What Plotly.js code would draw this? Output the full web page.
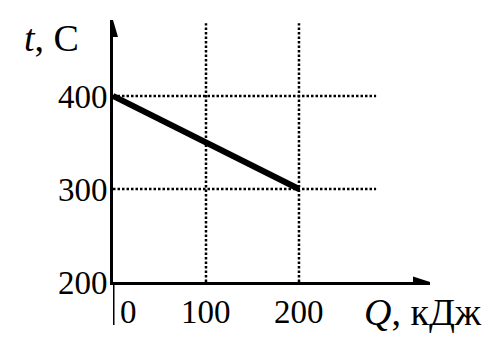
<!DOCTYPE html>
<html><head><meta charset="utf-8">
<script src="https://cdn.plot.ly/plotly-3.0.1.min.js"></script>
<style>html,body{margin:0;padding:0;background:#fff}</style>
</head><body>
<div id="chart" style="width:500px;height:351px"></div>
<script>
// Data
const Q = [0, 200];          // кДж
const T = [400, 300];        // C
const xTickVals = [0, 100, 200];
const xTickText = ['0', '100', '200'];
const yTickVals = [200, 300, 400];
const yTickText = ['200', '300', '400'];

const FONT = 'Liberation Serif, Times New Roman, serif';
const trace = {
  x: Q, y: T, type: 'scatter', mode: 'lines',
  line: {color: '#000', width: 6}, hoverinfo: 'skip'
};

const DOT = {color: '#000', width: 2.5, dash: '2.5px,2px'};
const shapes = [];
// vertical dotted grid lines (skip the origin)
xTickVals.filter(v => v !== 0).forEach(v => shapes.push({
  type: 'line', xref: 'x', yref: 'paper', x0: v, x1: v, y0: 0, y1: 0.988,
  line: DOT, layer: 'below'
}));
// horizontal dotted grid lines (skip the x axis level)
yTickVals.filter(v => v !== yTickVals[0]).forEach(v => shapes.push({
  type: 'line', xref: 'paper', yref: 'y', x0: 0, x1: 0.83, y0: v, y1: v,
  line: DOT, layer: 'below'
}));
// y axis extension below x axis
shapes.push({type: 'line', xref: 'x', yref: 'paper', ysizemode: 'pixel', yanchor: 0,
  x0: 0, x1: 0, y0: 0, y1: -43, line: {color: '#000', width: 3}});
// arrowheads
shapes.push({type: 'path', xref: 'x', yref: 'paper', xsizemode: 'pixel', ysizemode: 'pixel',
  xanchor: 0, yanchor: 1, path: 'M0,0 L-5,-17 L5,-17 Z', fillcolor: '#000', line: {width: 0}});
shapes.push({type: 'path', xref: 'paper', yref: 'y', xsizemode: 'pixel', ysizemode: 'pixel',
  xanchor: 1, yanchor: yTickVals[0], path: 'M0,0 L-17,5.5 L-17,-5.5 Z', fillcolor: '#000', line: {width: 0}});

const annotations = xTickVals.map((v, i) => ({
  x: v, xref: 'x', y: 0, yref: 'paper', text: xTickText[i], showarrow: false,
  xanchor: i === 0 ? 'left' : 'center', xshift: i === 0 ? 5 : 0,
  yanchor: 'middle', yshift: -30, font: {family: FONT, size: 33, color: '#000'}
}));
annotations.push({
  xref: 'paper', yref: 'paper', x: -0.287, y: 0.931, xanchor: 'left', yanchor: 'middle',
  text: '<i>t</i>, C', showarrow: false, font: {family: FONT, size: 38, color: '#000'}
});
annotations.push({
  xref: 'paper', yref: 'paper', x: 0.785, y: 0, yshift: -30, xanchor: 'left', yanchor: 'middle',
  text: '<i>Q</i>, кДж', showarrow: false, font: {family: FONT, size: 38, color: '#000'}
});

const layout = {
  width: 500, height: 351,
  margin: {l: 113, r: 70, t: 20, b: 69, pad: 0},
  paper_bgcolor: '#fff', plot_bgcolor: '#fff',
  showlegend: false,
  xaxis: {range: [0, 340.9], showgrid: false, zeroline: false, showline: true,
    linecolor: '#000', linewidth: 3, showticklabels: false, ticks: '', fixedrange: true},
  yaxis: {range: [200, 481.7], showgrid: false, zeroline: false, showline: true,
    linecolor: '#000', linewidth: 3, tickvals: yTickVals, ticktext: yTickText, ticks: '',
    ticklabelstandoff: -4, tickfont: {family: FONT, size: 33, color: '#000'}, fixedrange: true},
  shapes: shapes,
  annotations: annotations
};
Plotly.newPlot('chart', [trace], layout, {displayModeBar: false, staticPlot: true});
</script>
</body></html>
